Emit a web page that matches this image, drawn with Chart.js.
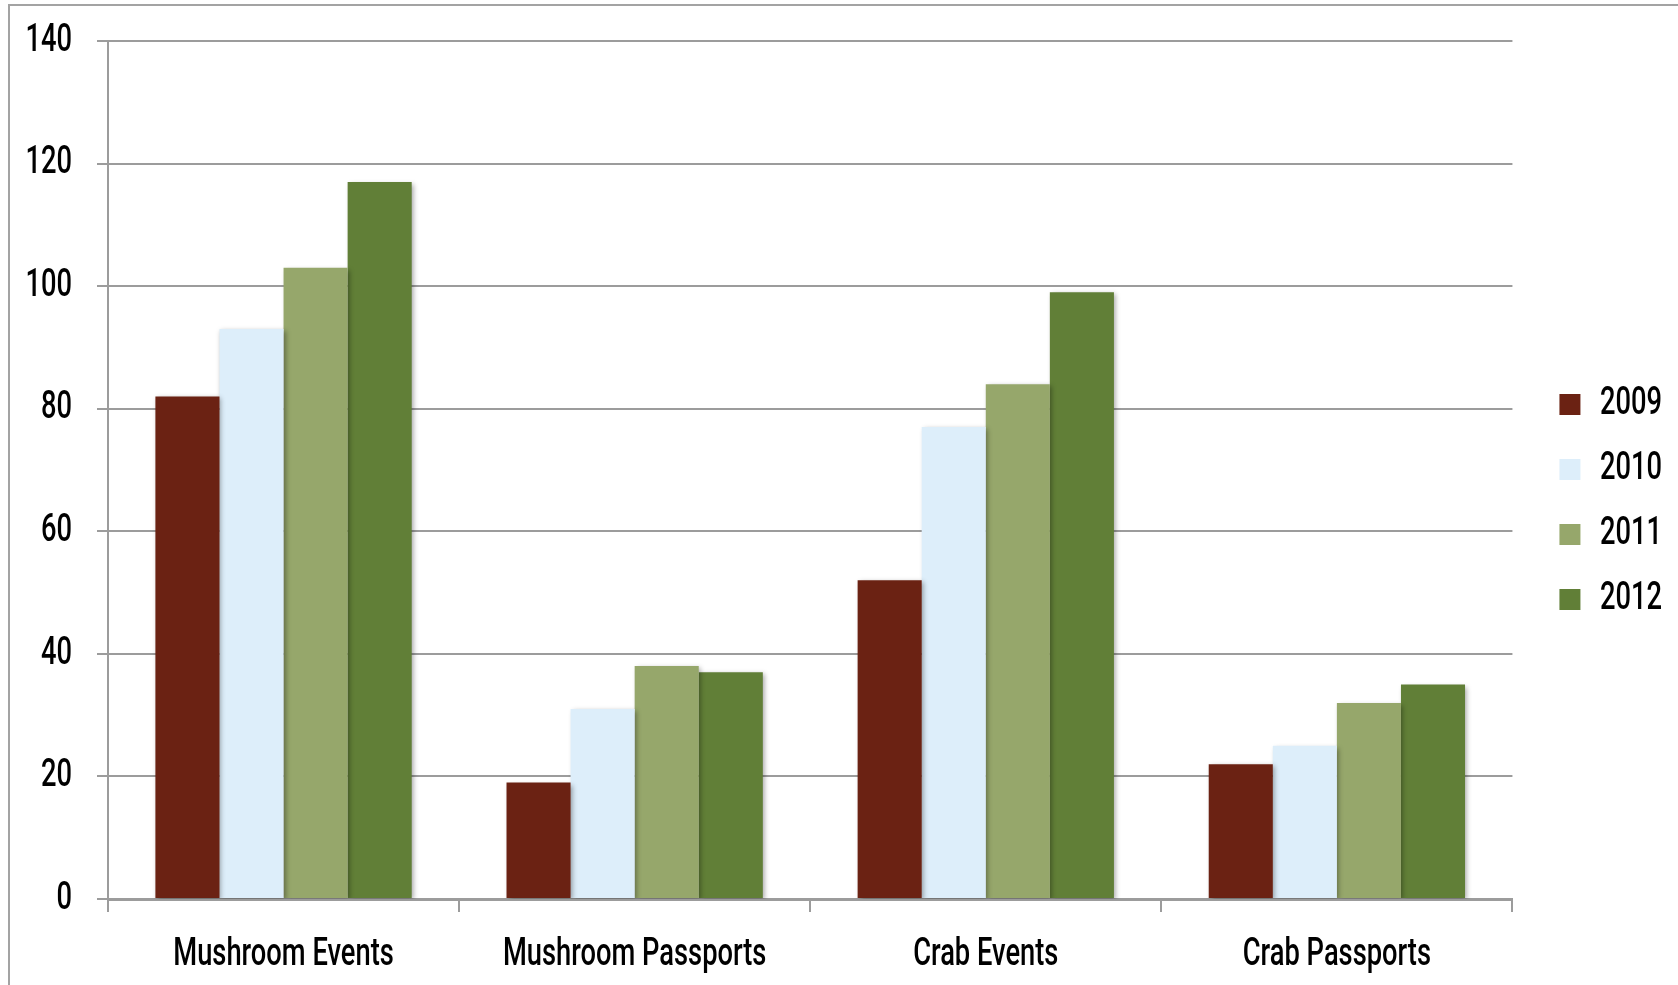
<!DOCTYPE html>
<html>
<head>
<meta charset="utf-8">
<script src="https://cdn.jsdelivr.net/npm/chart.js@4/dist/chart.umd.min.js"></script>
<style>
  html, body { margin: 0; padding: 0; background: #fff; overflow: hidden; }
  #frame { position: absolute; left: 8px; top: 4px; width: 1700px; height: 1000px; border: 2px solid #a3a3a3; box-sizing: border-box; }
  #wrap { position: absolute; left: 0; top: 0; width: 1678px; height: 985px; }
</style>
</head>
<body>
<div id="frame"></div>
<div id="wrap"><canvas id="c" width="1678" height="985"></canvas></div>
<script>
const categories = ['Mushroom Events', 'Mushroom Passports', 'Crab Events', 'Crab Passports'];
const seriesNames = ['2009', '2010', '2011', '2012'];
const values2009 = [82, 19, 52, 22];
const values2010 = [93, 31, 77, 25];
const values2011 = [103, 38, 84, 32];
const values2012 = [117, 37, 99, 35];
const yTicks = [0, 20, 40, 60, 80, 100, 120, 140];
const colors = ['#6b2213', '#ddeefa', '#96a76b', '#617f37'];

const FONT = "Roboto, 'Liberation Sans', sans-serif";
const FW = 500;
const GRID = '#9c9c9c';
const SX = 0.7; // horizontal condensing of all text (reference uses a condensed face)

const canvas = document.getElementById('c');
const ctx2d = canvas.getContext('2d');
(function condense(ctx) {
  const origFill = ctx.fillText.bind(ctx);
  const origMeasure = ctx.measureText.bind(ctx);
  ctx.fillText = function (text, x, y, maxWidth) {
    ctx.save();
    ctx.translate(x, y);
    ctx.scale(SX, 1);
    if (maxWidth === undefined) origFill(text, 0, 0);
    else origFill(text, 0, 0, maxWidth / SX);
    ctx.restore();
  };
  ctx.measureText = function (text) {
    const m = origMeasure(text);
    return {
      width: m.width * SX,
      actualBoundingBoxLeft: m.actualBoundingBoxLeft * SX,
      actualBoundingBoxRight: m.actualBoundingBoxRight * SX,
      actualBoundingBoxAscent: m.actualBoundingBoxAscent,
      actualBoundingBoxDescent: m.actualBoundingBoxDescent,
      fontBoundingBoxAscent: m.fontBoundingBoxAscent,
      fontBoundingBoxDescent: m.fontBoundingBoxDescent
    };
  };
})(ctx2d);

const shadowPlugin = {
  id: 'barShadow',
  beforeDatasetsDraw(chart) {
    const ctx = chart.ctx;
    ctx.save();
    ctx.shadowColor = 'rgba(0,0,0,0.35)';
    ctx.shadowBlur = 5;
    ctx.shadowOffsetX = 2;
    ctx.shadowOffsetY = 2;
  },
  afterDatasetsDraw(chart) { chart.ctx.restore(); }
};

const legendShift = {
  id: 'legendShift',
  afterLayout(chart) {
    const lg = chart.legend;
    if (!lg) return;
    const dx = 21, dy = -11;
    lg.left += dx; lg.right += dx;
    lg.top += dy; lg.bottom += dy;
  }
};

const all = [values2009, values2010, values2011, values2012];
new Chart(canvas, {
  type: 'bar',
  data: {
    labels: categories,
    datasets: seriesNames.map((n, i) => ({
      label: n,
      data: all[i],
      backgroundColor: colors[i],
      borderWidth: 0,
      categoryPercentage: 0.73,
      barPercentage: 1.0
    }))
  },
  options: {
    responsive: false,
    animation: false,
    layout: { padding: { top: 41, right: 27, bottom: 0, left: 0 } },
    plugins: {
      tooltip: { enabled: false },
      legend: {
        position: 'right',
        align: 'center',
        labels: {
          boxWidth: 21,
          boxHeight: 21,
          padding: 26,
          color: '#000',
          font: { family: FONT, size: 39, weight: FW }
        }
      }
    },
    scales: {
      x: {
        offset: true,
        grid: { display: true, drawOnChartArea: false, drawTicks: true, tickLength: 13, color: GRID, lineWidth: 2, offset: true },
        border: { display: true, color: GRID, width: 3 },
        ticks: { color: '#000', padding: 20, maxRotation: 0, autoSkip: false, font: { family: FONT, size: 39, weight: FW } },
        afterFit(scale) { scale.height = 86; }
      },
      y: {
        min: 0,
        max: 140,
        afterBuildTicks(scale) { scale.ticks = yTicks.map(v => ({ value: v })); },
        grid: { color: GRID, lineWidth: 2, drawTicks: true, tickLength: 11 },
        border: { display: true, color: GRID, width: 2 },
        ticks: { color: '#000', padding: 25, font: { family: FONT, size: 39, weight: FW } },
        afterFit(scale) { scale.width = 108; scale.paddingTop = 0; scale.paddingBottom = 0; }
      }
    }
  },
  plugins: [shadowPlugin, legendShift]
});
</script>
</body>
</html>
